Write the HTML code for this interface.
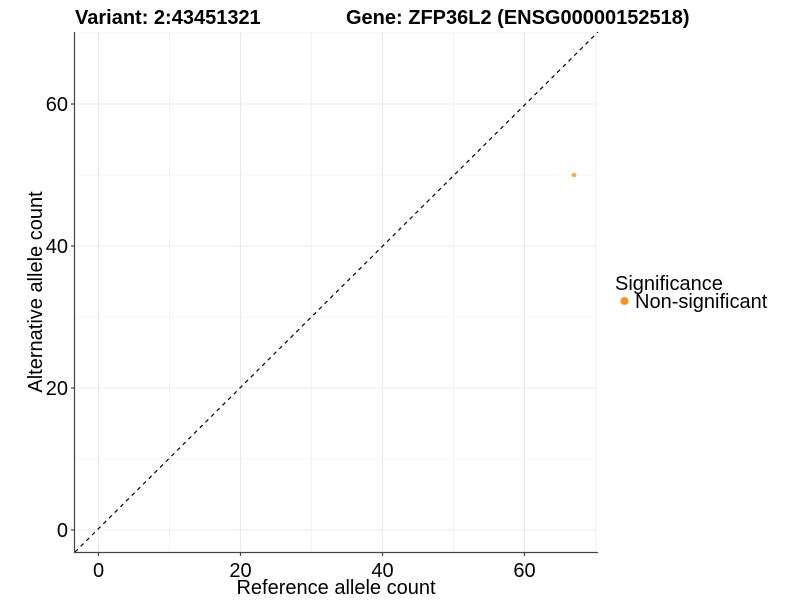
<!DOCTYPE html>
<html><head><meta charset="utf-8"><style>
html,body{margin:0;padding:0;background:#fff;}
svg{display:block;font-family:"Liberation Sans",Arial,sans-serif;}
</style></head><body>
<svg width="800" height="600" viewBox="0 0 800 600" xmlns="http://www.w3.org/2000/svg">
<rect width="800" height="600" fill="#fff"/>
<g stroke="#ebebeb" stroke-width="0.6">
<line x1="169.5" y1="32" x2="169.5" y2="552"/>
<line x1="311.5" y1="32" x2="311.5" y2="552"/>
<line x1="453.5" y1="32" x2="453.5" y2="552"/>
<line x1="595.5" y1="32" x2="595.5" y2="552"/>
<line x1="75" y1="459" x2="598" y2="459"/>
<line x1="75" y1="317" x2="598" y2="317"/>
<line x1="75" y1="175" x2="598" y2="175"/>
<line x1="75" y1="33" x2="598" y2="33"/>
</g>
<g stroke="#ebebeb" stroke-width="1.1">
<line x1="98.5" y1="32" x2="98.5" y2="552"/>
<line x1="240.5" y1="32" x2="240.5" y2="552"/>
<line x1="382.5" y1="32" x2="382.5" y2="552"/>
<line x1="524.5" y1="32" x2="524.5" y2="552"/>
<line x1="75" y1="530" x2="598" y2="530"/>
<line x1="75" y1="388" x2="598" y2="388"/>
<line x1="75" y1="246" x2="598" y2="246"/>
<line x1="75" y1="104" x2="598" y2="104"/>
</g>
<line x1="75" y1="552" x2="598" y2="32" stroke="#000" stroke-width="1.2" stroke-dasharray="4,4"/>
<circle cx="574" cy="175" r="2.3" fill="#f7941d" opacity="0.8"/>
<g stroke="#444" stroke-width="1.2">
<line x1="74.5" y1="32" x2="74.5" y2="552.5"/>
<line x1="74" y1="552.5" x2="598" y2="552.5"/>
<line x1="98.5" y1="552" x2="98.5" y2="556"/>
<line x1="240.5" y1="552" x2="240.5" y2="556"/>
<line x1="382.5" y1="552" x2="382.5" y2="556"/>
<line x1="524.5" y1="552" x2="524.5" y2="556"/>
<line x1="71" y1="530" x2="75" y2="530"/>
<line x1="71" y1="388" x2="75" y2="388"/>
<line x1="71" y1="246" x2="75" y2="246"/>
<line x1="71" y1="104" x2="75" y2="104"/>
</g>
<g font-size="20" fill="#000" text-anchor="middle">
<text x="98.5" y="577">0</text>
<text x="240.5" y="577">20</text>
<text x="382.5" y="577">40</text>
<text x="524.5" y="577">60</text>
</g>
<g font-size="20" fill="#000" text-anchor="end">
<text x="68" y="537">0</text>
<text x="68" y="395">20</text>
<text x="68" y="253">40</text>
<text x="68" y="111">60</text>
</g>
<text x="336" y="594" font-size="20" text-anchor="middle">Reference allele count</text>
<text transform="translate(42,292) rotate(-90)" font-size="20" text-anchor="middle">Alternative allele count</text>
<text x="75" y="24" font-size="20" font-weight="bold">Variant: 2:43451321</text>
<text x="346" y="24" font-size="20" font-weight="bold">Gene: ZFP36L2 (ENSG00000152518)</text>
<text x="615" y="290" font-size="20">Significance</text>
<circle cx="624.5" cy="301" r="4" fill="#f7941d"/>
<text x="635" y="308" font-size="20">Non-significant</text>
</svg>
</body></html>
